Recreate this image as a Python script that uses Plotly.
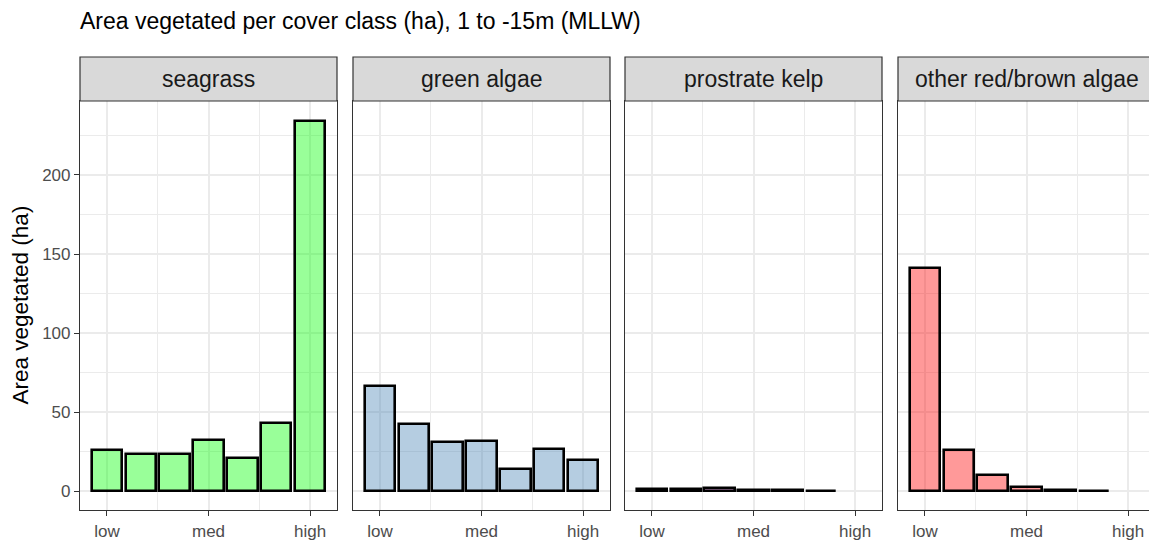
import plotly.graph_objects as go

# cover classes 1..7, only low / med / high are labelled
classes = [1, 2, 3, 4, 5, 6, 7]
tick_pos = [1, 4, 7]
tick_text = ["low", "med", "high"]

panels = ["seagrass", "green algae", "prostrate kelp", "other red/brown algae"]

seagrass = [25.9, 23.4, 23.4, 32.7, 21.1, 43.1, 234.3]
green_algae = [66.4, 42.5, 31.2, 32.0, 14.3, 26.8, 20.1]
prostrate_kelp = [1.6, 1.5, 2.1, 1.1, 0.9, 0.4, None]
red_brown = [141.3, 26.2, 10.3, 2.8, 0.8, 0.5, None]

values = [seagrass, green_algae, prostrate_kelp, red_brown]
fills = ["rgba(0,255,0,0.4)", "rgba(70,130,180,0.4)",
         "rgba(128,0,128,0.4)", "rgba(255,0,0,0.4)"]

# the page body adds an 8px offset, so the figure is 8px smaller
OFF = 8
W, H = 1157 - OFF, 543 - OFF
ML, MR, MT, MB = 80 - OFF, 2, 57 - OFF, 33
pw = W - ML - MR
ph = H - MT - MB
strip_h = 44
ytop = 1 - strip_h / ph

# panel pixel positions (left, right) relative to plot area
px = [(0, 257), (273, 530), (545, 802), (818, 1075)]

font = "Liberation Sans, Arial, sans-serif"
grid = "#EBEBEB"
border = "#333333"

fig = go.Figure()

for i, name in enumerate(panels):
    n = i + 1
    fig.add_trace(go.Bar(
        x=classes, y=values[i], width=0.9,
        marker=dict(color=fills[i], line=dict(color="black", width=2.6)),
        xaxis="x" if n == 1 else f"x{n}",
        yaxis="y" if n == 1 else f"y{n}",
        showlegend=False,
    ))
    d0, d1 = px[i][0] / pw, px[i][1] / pw
    xa = dict(
        domain=[d0, d1], range=[0.205, 7.795],
        tickmode="array", tickvals=tick_pos, ticktext=tick_text,
        ticks="outside", ticklen=5, tickwidth=1.2, tickcolor=border,
        tickfont=dict(size=17, color="#4D4D4D", family=font),
        showgrid=True, gridcolor=grid, gridwidth=1.6,
        minor=dict(tickmode="array", tickvals=[2.5, 5.5], showgrid=True,
                   gridcolor=grid, gridwidth=1, ticks=""),
        showline=True, linecolor=border, linewidth=1.2, mirror=True,
        zeroline=False, anchor="y" if n == 1 else f"y{n}",
    )
    ya = dict(
        domain=[0, ytop], range=[-11.75, 246.75],
        tickmode="array", tickvals=[0, 50, 100, 150, 200],
        ticks="outside" if n == 1 else "", ticklen=5, tickwidth=1.2,
        tickcolor=border, showticklabels=(n == 1),
        tickfont=dict(size=17, color="#4D4D4D", family=font),
        showgrid=True, gridcolor=grid, gridwidth=1.6,
        minor=dict(tickmode="array", tickvals=[25, 75, 125, 175, 225],
                   showgrid=True, gridcolor=grid, gridwidth=1, ticks=""),
        showline=True, linecolor=border, linewidth=1.2, mirror=True,
        zeroline=False, anchor="x" if n == 1 else f"x{n}",
    )
    fig.update_layout({("xaxis" if n == 1 else f"xaxis{n}"): xa,
                       ("yaxis" if n == 1 else f"yaxis{n}"): ya})
    # facet strip
    fig.add_shape(type="rect", xref="paper", yref="paper",
                  x0=d0, x1=d1, y0=ytop, y1=1,
                  fillcolor="#D9D9D9", line=dict(color=border, width=1.2),
                  layer="above")
    fig.add_annotation(text=name, xref="paper", yref="paper",
                       x=(d0 + d1) / 2, y=(ytop + 1) / 2,
                       xanchor="center", yanchor="middle", showarrow=False,
                       font=dict(size=23, color="#1A1A1A", family=font))

fig.add_annotation(text="Area vegetated (ha)", xref="paper", yref="paper",
                   x=-(ML - (20 - OFF)) / pw, y=ytop / 2, textangle=-90,
                   xanchor="center", yanchor="middle", showarrow=False,
                   font=dict(size=22.5, color="black", family=font))

fig.update_layout(
    width=W, height=H,
    margin=dict(l=ML, r=MR, t=MT, b=MB),
    paper_bgcolor="white", plot_bgcolor="white",
    bargap=0,
    title=dict(text="Area vegetated per cover class (ha), 1 to -15m (MLLW)",
               x=ML / W, xanchor="left", y=1 - (21 - OFF) / H,
               yanchor="middle",
               font=dict(size=23, color="black", family=font)),
)

fig.write_html("out.html")
